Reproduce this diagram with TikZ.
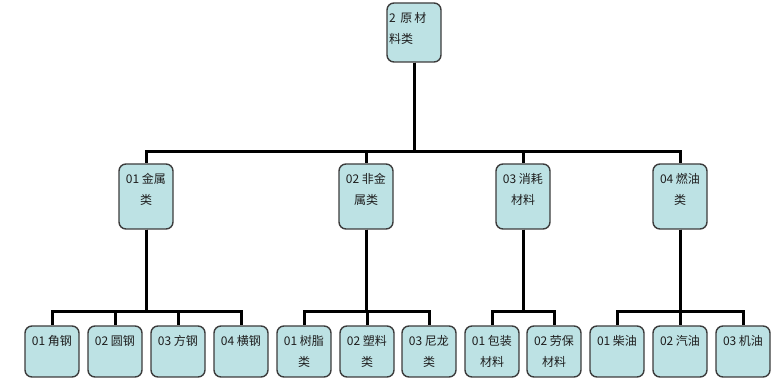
\documentclass[tikz,border=0pt]{standalone}
\usepackage{fontspec}
\setmainfont{Noto Sans CJK SC}
\usetikzlibrary{positioning}
\definecolor{cellfill}{HTML}{BDE2E4}
\definecolor{cellline}{HTML}{3C3C3C}
\definecolor{celltext}{HTML}{1E1E1E}
\newcommand{\cell}[2]{\parbox[c][#1][t]{54pt}{\centering\rule{0pt}{19.5pt}#2}}

\begin{document}
\begin{tikzpicture}[x=1pt,y=1pt,
 every node/.style={font=\fontsize{12}{21}\selectfont,text=celltext},
 box/.style={draw=cellline,line width=1.4pt,rounded corners=7pt,fill=cellfill,inner sep=0pt},
 link/.style={line width=3pt,draw=black}]

\useasboundingbox (0,0) rectangle (780,-387);

% top
\node[box] (root) at (414,-32.5) {\parbox[c][59pt][t]{54pt}{\raggedright\rule{0pt}{19.5pt}\hspace*{2pt}2 \,原\,材\\\hspace*{2pt}料类}};

% second level
\node[box] (metal) at (146,-196.5) {\cell{65pt}{01 金属\\类}};
\node[box] (nonmetal) at (366,-196.5) {\cell{65pt}{02 非金\\属类}};
\node[box] (consum) at (523,-196.5) {\cell{65pt}{03 消耗\\材料}};
\node[box] (fuel) at (680,-196.5) {\cell{65pt}{04 燃油\\类}};

% third level
\node[box] (angle) at (52,-351.5) {\cell{51pt}{01 角钢}};
\node[box] (round) at (115,-351.5) {\cell{51pt}{02 圆钢}};
\node[box] (square) at (178,-351.5) {\cell{51pt}{03 方钢}};
\node[box] (hbeam) at (241,-351.5) {\cell{51pt}{04 横钢}};
\node[box] (resin) at (304,-351.5) {\cell{51pt}{01 树脂\\类}};
\node[box] (plastic) at (367,-351.5) {\cell{51pt}{02 塑料\\类}};
\node[box] (nylon) at (429,-351.5) {\cell{51pt}{03 尼龙\\类}};
\node[box] (pack) at (492,-351.5) {\cell{51pt}{01 包装\\材料}};
\node[box] (labor) at (554,-351.5) {\cell{51pt}{02 劳保\\材料}};
\node[box] (diesel) at (617,-351.5) {\cell{51pt}{01 柴油}};
\node[box] (petrol) at (680,-351.5) {\cell{51pt}{02 汽油}};
\node[box] (engoil) at (743,-351.5) {\cell{51pt}{03 机油}};

% connectors
\draw[link] (root.south) |- ([yshift=12pt]metal.north) -- (metal.north);
\draw[link] (root.south) |- ([yshift=12pt]nonmetal.north) -- (nonmetal.north);
\draw[link] (root.south) |- ([yshift=12pt]consum.north) -- (consum.north);
\draw[link] (root.south) |- ([yshift=12pt]fuel.north) -- (fuel.north);

\draw[link] (metal.south) |- ([yshift=14pt]angle.north) -- (angle.north);
\draw[link] (metal.south) |- ([yshift=14pt]round.north) -- (round.north);
\draw[link] (metal.south) |- ([yshift=14pt]square.north) -- (square.north);
\draw[link] (metal.south) |- ([yshift=14pt]hbeam.north) -- (hbeam.north);
\draw[link] (nonmetal.south) |- ([yshift=14pt]resin.north) -- (resin.north);
\draw[link] (nonmetal.south) |- ([yshift=14pt]plastic.north) -- (plastic.north);
\draw[link] (nonmetal.south) |- ([yshift=14pt]nylon.north) -- (nylon.north);
\draw[link] (consum.south) |- ([yshift=14pt]pack.north) -- (pack.north);
\draw[link] (consum.south) |- ([yshift=14pt]labor.north) -- (labor.north);
\draw[link] (fuel.south) |- ([yshift=14pt]diesel.north) -- (diesel.north);
\draw[link] (fuel.south) |- ([yshift=14pt]petrol.north) -- (petrol.north);
\draw[link] (fuel.south) |- ([yshift=14pt]engoil.north) -- (engoil.north);
\end{tikzpicture}
\end{document}
